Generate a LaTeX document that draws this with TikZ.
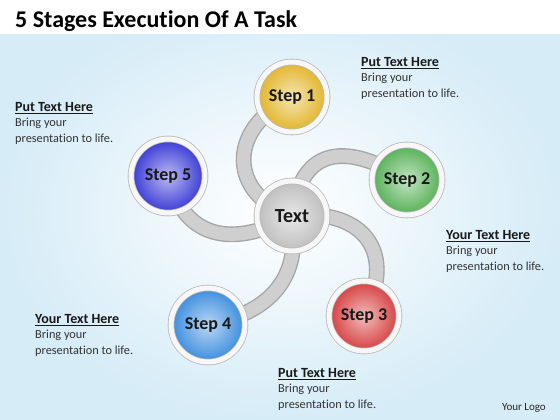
\documentclass[tikz,border=0pt]{standalone}
\usepackage{fontspec}
\setmainfont{Carlito}[Ligatures = NoCommon]
\usetikzlibrary{positioning,calc}
\pgfdeclarelayer{back}
\pgfdeclarelayer{bg}
\pgfsetlayers{back,bg,main}
\definecolor{bgblue}{RGB}{214,236,247}
\definecolor{gold}{RGB}{226,180,40}
\definecolor{leaf}{RGB}{84,176,84}
\definecolor{rose}{RGB}{214,62,62}
\definecolor{sky}{RGB}{58,140,222}
\definecolor{violet}{RGB}{56,56,214}
\definecolor{silver}{RGB}{190,190,190}

\begin{document}
\begin{tikzpicture}[x = 1pt, y = 1pt,
    orb/.style = {circle, minimum size = 70pt, inner sep = 0pt, draw = gray!55, double = gray!6,
      double distance = 5pt, line width = 0.8pt, inner color = #1!35!white, outer color = #1,
      text = black!90, font = \fontsize{18}{20}\selectfont\bfseries},
    tube/.style = {draw = gray!70, line width = 1.4pt, double = gray!38, double distance = 13pt},
    head/.style = {anchor = west, inner sep = 0pt, font = \fontsize{14}{16}\selectfont\bfseries, text = black!90},
    body/.style = {anchor = north west, inner sep = 0pt, align = left, font = \fontsize{12.3}{16}\selectfont, text = black!80}]
    \useasboundingbox (0,0) rectangle (560,420);
    \begin{pgfonlayer}{back}
      \shade[inner color = white, outer color = bgblue] (0,0) rectangle (560,420);
      \fill[white] (0,386) rectangle (560,420);
    \end{pgfonlayer}
    \node[anchor = west, inner sep = 0pt, font = \fontsize{24}{26}\selectfont\bfseries] (title) at (15,399) {5 Stages Execution Of A Task};
    % spheres
    \node[orb = silver, font = \fontsize{20}{22}\selectfont\bfseries] (txt) at (292,204) {Text};
    \node[orb = gold] (s1) at (292,323) {Step 1};
    \node[orb = leaf] (s2) at (407,240) {Step 2};
    \node[orb = rose] (s3) at (364,104) {Step 3};
    \node[orb = sky, minimum size = 74pt] (s4) at (208,95) {Step 4};
    \node[orb = violet, minimum size = 74pt] (s5) at (168,244) {Step 5};
    % tubes
    \begin{pgfonlayer}{bg}
      \draw[tube] (txt.center) .. controls (230,225) and (225,290) .. (s1.center);
      \draw[tube] (txt.center) .. controls (300,268) and (340,282) .. (s2.center);
      \draw[tube] (txt.center) .. controls (355,212) and (400,175) .. (s3.center);
      \draw[tube] (txt.center) .. controls (300,150) and (280,110) .. (s4.center);
      \draw[tube] (txt.center) .. controls (240,175) and (185,175) .. (s5.center);
    \end{pgfonlayer}
    % captions
    \node[head] (h1) at (361,357) {\underline{Put Text Here}};
    \node[body] (b1) at ($(h1.south west)+(0,-4)$) {Bring your\\presentation to life.};
    \node[head] (h2) at (446,184) {\underline{Your Text Here}};
    \node[body] (b2) at ($(h2.south west)+(0,-4)$) {Bring your\\presentation to life.};
    \node[head] (h3) at (278,46) {\underline{Put Text Here}};
    \node[body] (b3) at ($(h3.south west)+(0,-4)$) {Bring your\\presentation to life.};
    \node[head] (h4) at (35,100) {\underline{Your Text Here}};
    \node[body] (b4) at ($(h4.south west)+(0,-4)$) {Bring your\\presentation to life.};
    \node[head] (h5) at (15,312) {\underline{Put Text Here}};
    \node[body] (b5) at ($(h5.south west)+(0,-4)$) {Bring your\\presentation to life.};
    \node[anchor = east, inner sep = 0pt, font = \fontsize{11}{13}\selectfont, text = black!85] (logo) at (546,12) {Your Logo};
  \end{tikzpicture}
\end{document}
